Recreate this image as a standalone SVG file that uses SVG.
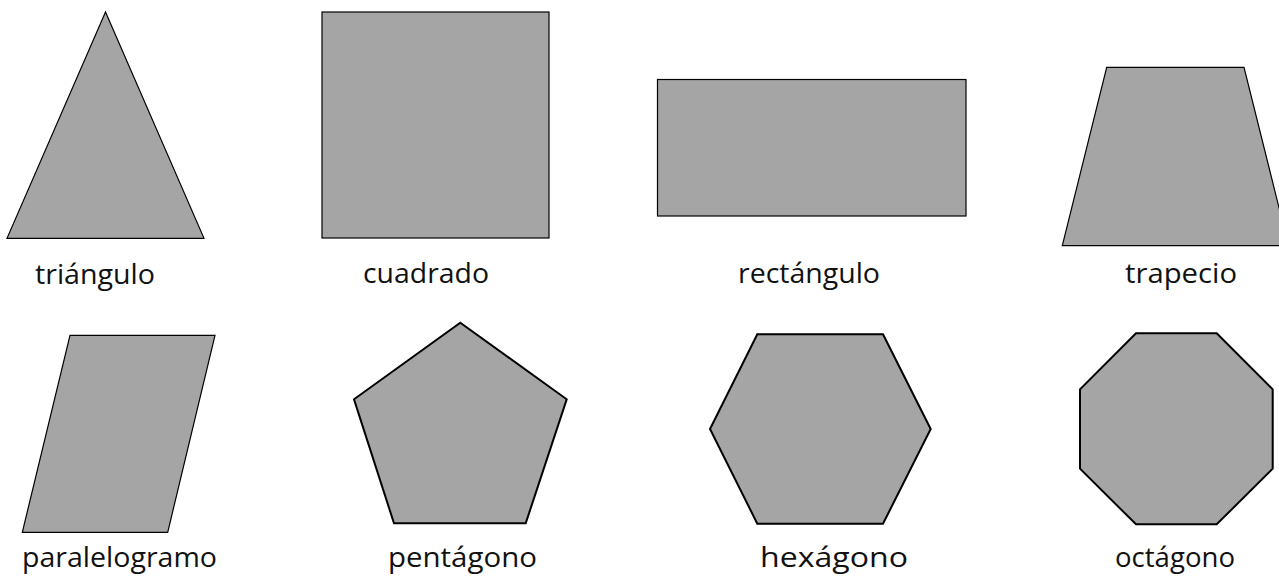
<svg xmlns="http://www.w3.org/2000/svg" width="1279" height="581" viewBox="0 0 1279 581">
<style>
.s1{fill:#a5a5a5;stroke:#000;stroke-width:1.2;stroke-linejoin:miter}
.s2{fill:#a5a5a5;stroke:#000;stroke-width:2;stroke-linejoin:miter}
.lbl{font-family:"Open Sans","Liberation Sans",sans-serif;font-size:28px;fill:#111}
</style>
<rect width="1279" height="581" fill="#fff"/>
<g id="triangulo">
<polygon class="s1" points="105.5,12 204,238.3 7,238.3"/>
<text class="lbl" x="35" y="284" textLength="120" lengthAdjust="spacingAndGlyphs">triángulo</text>
</g>
<g id="cuadrado">
<rect class="s1" x="322" y="12" width="227" height="226"/>
<text class="lbl" x="363" y="283" textLength="126" lengthAdjust="spacingAndGlyphs">cuadrado</text>
</g>
<g id="rectangulo">
<rect class="s1" x="657.5" y="79.5" width="308.5" height="136.5"/>
<text class="lbl" x="738" y="283" textLength="142" lengthAdjust="spacingAndGlyphs">rectángulo</text>
</g>
<g id="trapecio">
<polygon class="s1" points="1106.7,67.3 1244,67.3 1288.5,245.7 1062.3,245.7"/>
<text class="lbl" x="1125" y="283" textLength="112" lengthAdjust="spacingAndGlyphs">trapecio</text>
</g>
<g id="paralelogramo">
<polygon class="s1" points="70,335.3 215,335.3 167.7,532.3 22.3,532.3"/>
<text class="lbl" x="22" y="567" textLength="195" lengthAdjust="spacingAndGlyphs">paralelogramo</text>
</g>
<g id="pentagono">
<polygon class="s2" points="460.3,322.7 566.7,399.3 525.7,523.3 394,523.3 354,399.3"/>
<text class="lbl" x="388" y="567" textLength="149" lengthAdjust="spacingAndGlyphs">pentágono</text>
</g>
<g id="hexagono">
<polygon class="s2" points="757.3,334.3 883,334.3 930.7,429 883,523.7 757.3,523.7 710,429"/>
<text class="lbl" x="760" y="567" textLength="148" lengthAdjust="spacingAndGlyphs">hexágono</text>
</g>
<g id="octagono">
<polygon class="s2" points="1136,333.3 1216.7,333.3 1272.7,389.3 1272.7,468.7 1216.7,524.3 1136,524.3 1080,468.7 1080,389.3"/>
<text class="lbl" x="1115" y="567" textLength="120" lengthAdjust="spacingAndGlyphs">octágono</text>
</g>
<g id="connectors"></g>
</svg>
